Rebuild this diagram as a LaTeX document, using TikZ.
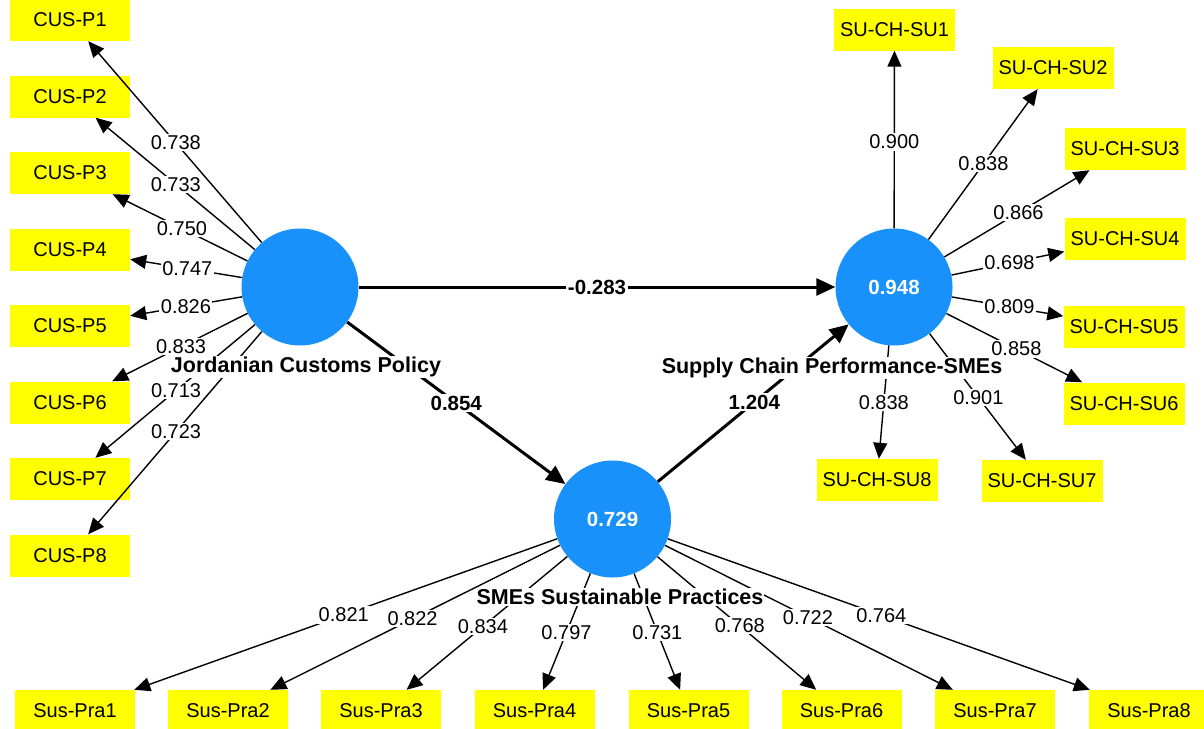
\documentclass[tikz,border=0pt]{standalone}
\usepackage{fontspec}
\setmainfont{Liberation Sans}
\usetikzlibrary{arrows.meta,calc}
\definecolor{lvblue}{RGB}{24,145,250}
\definecolor{mvyellow}{RGB}{255,255,0}
\tikzset{
 lv/.style={circle,fill=lvblue,minimum size=117pt,inner sep=0pt,text=white,font=\fontsize{20.5}{24}\selectfont\bfseries},
 mv/.style={rectangle,fill=mvyellow,minimum width=120pt,minimum height=42pt,inner sep=0pt,font=\fontsize{20}{24}\selectfont},
 load/.style={line width=1.4pt,-{Triangle[length=16pt,width=14pt]}},
 pathc/.style={line width=3pt,-{Triangle[length=19pt,width=17pt]}},
 lw/.style={fill=white,inner sep=1.5pt,font=\fontsize{20}{24}\selectfont},
 pw/.style={fill=white,inner sep=1.5pt,font=\fontsize{20.5}{24}\selectfont\bfseries},
 lvname/.style={fill=white,inner sep=1pt,font=\fontsize{21.5}{24}\selectfont\bfseries},
}
\begin{document}
\begin{tikzpicture}[x=1pt,y=-1pt]
\useasboundingbox (0,0) rectangle (1204,728);
% latent variables
\node[lv] (jcp) at (300,287) {};
\node[lv] (sc) at (894,287) {0.948};
\node[lv] (ss) at (612.5,519) {0.729};
% indicators
\node[mv] (p1) at (70,20) {CUS-P1};
\node[mv] (p2) at (70,96.5) {CUS-P2};
\node[mv] (p3) at (70,173) {CUS-P3};
\node[mv] (p4) at (70,249.5) {CUS-P4};
\node[mv] (p5) at (70,326) {CUS-P5};
\node[mv] (p6) at (70,402.5) {CUS-P6};
\node[mv] (p7) at (70,479) {CUS-P7};
\node[mv] (p8) at (70,555.5) {CUS-P8};
\node[mv,minimum width=121pt] (s1) at (894.5,29.5) {SU-CH-SU1};
\node[mv,minimum width=121pt] (s2) at (1053,68) {SU-CH-SU2};
\node[mv,minimum width=121pt] (s3) at (1125,149) {SU-CH-SU3};
\node[mv,minimum width=121pt] (s4) at (1125,239) {SU-CH-SU4};
\node[mv,minimum width=121pt] (s5) at (1124,326.5) {SU-CH-SU5};
\node[mv,minimum width=121pt] (s6) at (1124,403.5) {SU-CH-SU6};
\node[mv,minimum width=121pt] (s7) at (1042,481) {SU-CH-SU7};
\node[mv,minimum width=121pt] (s8) at (877,480) {SU-CH-SU8};
\node[mv] (q1) at (75,711) {Sus-Pra1};
\node[mv] (q2) at (228,711) {Sus-Pra2};
\node[mv] (q3) at (381,711) {Sus-Pra3};
\node[mv] (q4) at (534.5,711) {Sus-Pra4};
\node[mv] (q5) at (688.5,711) {Sus-Pra5};
\node[mv] (q6) at (841.5,711) {Sus-Pra6};
\node[mv] (q7) at (995,711) {Sus-Pra7};
\node[mv] (q8) at (1149,711) {Sus-Pra8};
% loadings
\foreach \t in {p1,p2,p3,p4,p5,p6,p7,p8}{
  \draw[load] (jcp) -- (\t);
}
\foreach \t in {s1,s2,s3,s4,s5,s6,s7,s8}{
  \draw[load] (sc) -- (\t);
}
\foreach \t in {q1,q2,q3,q4,q5,q6,q7,q8}{
  \draw[load] (ss) -- (\t);
}
% structural paths
\draw[pathc] (jcp) -- (sc);
\draw[pathc] (jcp) -- (ss);
\draw[pathc] (ss) -- (sc);
% construct names
\node[lvname] (jcpname) at (306,367) {Jordanian Customs Policy};
\node[lvname] (scname) at (832,368) {Supply Chain Performance-SMEs};
\node[lvname] (ssname) at (620,597) {SMEs Sustainable Practices};
% loading labels
\foreach \t/\v/\n in {p1/0.738/0.54, p2/0.733/0.54, p3/0.750/0.513, p4/0.747/0.49, p5/0.826/0.496, p6/0.833/0.517, p7/0.713/0.539, p8/0.723/0.539}{
  \node[lw] at ($(jcp)!\n!(\t)$) {\v};
}
\foreach \t/\v/\n in {s1/0.900/0.563, s2/0.838/0.5625, s3/0.866/0.539, s4/0.698/0.5, s5/0.809/0.502, s6/0.858/0.532, s7/0.901/0.57, s8/0.838/0.6}{
  \node[lw] at ($(sc)!\n!(\t)$) {\v};
}
\foreach \t/\v/\n in {q1/0.821/0.5, q2/0.822/0.52, q3/0.834/0.56, q4/0.797/0.59, q5/0.731/0.59, q6/0.768/0.556, q7/0.722/0.511, q8/0.764/0.501}{
  \node[lw] at ($(ss)!\n!(\t)$) {\v};
}
% path labels
\node[pw] (c1) at ($(jcp)!0.5!(sc)$) {-0.283};
\node[pw] (c2) at ($(jcp)!0.5!(ss)$) {0.854};
\node[pw] (c3) at ($(ss)!0.504!(sc)$) {1.204};
\end{tikzpicture}
\end{document}
